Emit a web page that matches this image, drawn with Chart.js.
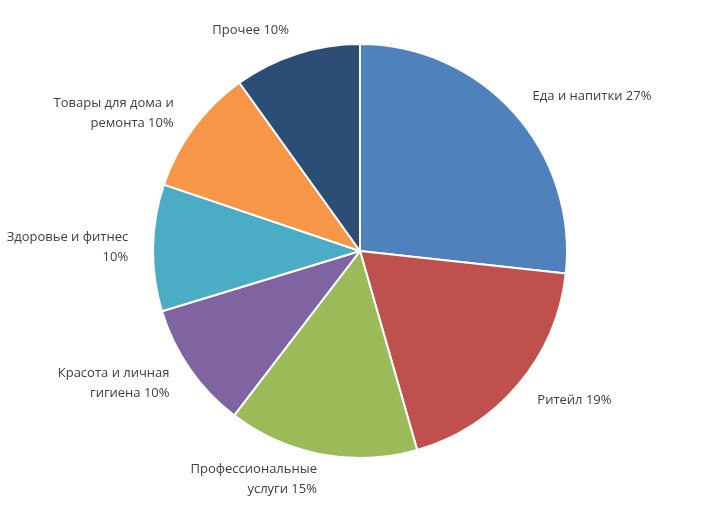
<!DOCTYPE html>
<html><head><meta charset="utf-8">
<script src="https://cdn.jsdelivr.net/npm/chart.js@4"></script>
<style>html,body{margin:0;padding:0;background:#fff}#w{width:724px;height:505px}</style>
</head><body><div id="w"><canvas id="c"></canvas></div>
<script>
const categories = [["Еда и напитки 27%"],["Ритейл 19%"],["Профессиональные","услуги 15%"],["Красота и личная","гигиена 10%"],["Здоровье и фитнес","10%"],["Товары для дома и","ремонта 10%"],["Прочее 10%"]];
const values = [27,19,15,10,10,10,10];
const colors = ["#4F81BD","#C0504D","#9BBB59","#8064A2","#4BACC6","#F79646","#2C4D75"];
const outLabels = {
  id:'outLabels',
  afterDatasetsDraw(chart){
    const ctx=chart.ctx, meta=chart.getDatasetMeta(0);
    ctx.save();
    ctx.font='13px "Open Sans", "Liberation Sans", sans-serif';
    ctx.fillStyle='#404040';
    ctx.textBaseline='middle';
    meta.data.forEach((arc,i)=>{
      const a=(arc.startAngle+arc.endAngle)/2, d=arc.outerRadius*1.12;
      const x=arc.x+Math.cos(a)*d, y=arc.y+Math.sin(a)*d;
      ctx.textAlign = Math.cos(a)>=0 ? 'left':'right';
      const lines=chart.data.labels[i], lh=20;
      lines.forEach((t,k)=>ctx.fillText(t,x,y+(k-(lines.length-1)/2)*lh));
    });
    ctx.restore();
  }
};
new Chart(document.getElementById('c'),{
  type:'pie',
  data:{labels:categories,datasets:[{data:values,backgroundColor:colors,borderColor:'#fff',borderWidth:2}]},
  options:{responsive:true,maintainAspectRatio:false,animation:false,
    layout:{padding:{top:43,bottom:46,left:0,right:4}},
    plugins:{legend:{display:false},tooltip:{enabled:false}}},
  plugins:[outLabels]
});
</script></body></html>
